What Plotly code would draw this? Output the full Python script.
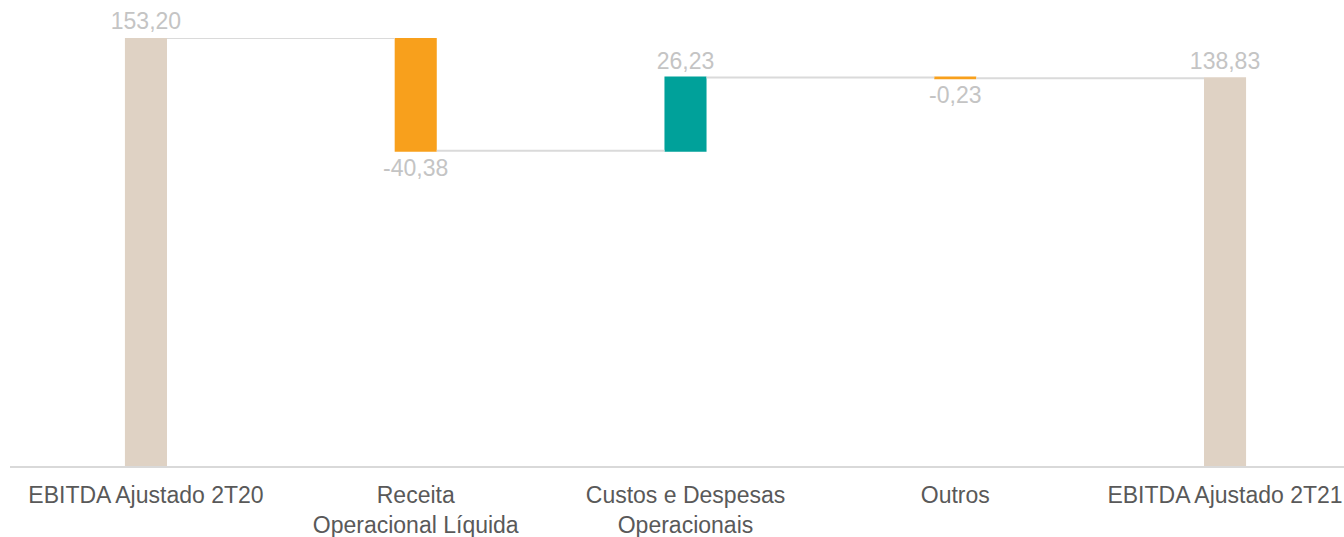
import plotly.graph_objects as go

# EBITDA bridge 2T20 -> 2T21
categories = [
    "EBITDA Ajustado 2T20",
    "Receita<br>Operacional Líquida",
    "Custos e Despesas<br>Operacionais",
    "Outros",
    "EBITDA Ajustado 2T21",
]
values = [153.20, -40.38, 26.23, -0.23, 138.83]
measures = ["absolute", "relative", "relative", "relative", "absolute"]

labels = [f"{v:.2f}".replace(".", ",") for v in values]

fig = go.Figure(
    go.Waterfall(
        x=categories,
        y=values,
        measure=measures,
        text=labels,
        textposition="outside",
        constraintext="none",
        textfont=dict(family="Liberation Sans, Arial, sans-serif", size=23, color="#c4c4c4"),
        width=0.156,
        totals=dict(marker=dict(color="#dfd2c4")),
        increasing=dict(marker=dict(color="#00a19a")),
        decreasing=dict(marker=dict(color="#f8a01c")),
        connector=dict(mode="between", line=dict(color="#dadada", width=2)),
        cliponaxis=False,
        hoverinfo="skip",
    )
)

fig.update_layout(
    width=1344,
    height=537,
    margin=dict(l=10, r=0, t=38, b=71),
    paper_bgcolor="white",
    plot_bgcolor="white",
    showlegend=False,
    font=dict(family="Liberation Sans, Arial, sans-serif", size=23, color="#595959"),
    xaxis=dict(
        range=[-0.504, 4.441],
        automargin=False,
        showgrid=False,
        showline=True,
        linecolor="#d9d9d9",
        linewidth=1.5,
        ticks="",
        ticklabelstandoff=8,
        tickfont=dict(size=23, color="#595959"),
        fixedrange=True,
    ),
    yaxis=dict(
        range=[0, 153.2],
        automargin=False,
        visible=False,
        showgrid=False,
        zeroline=False,
        fixedrange=True,
    ),
)

fig.write_html("out.html")
